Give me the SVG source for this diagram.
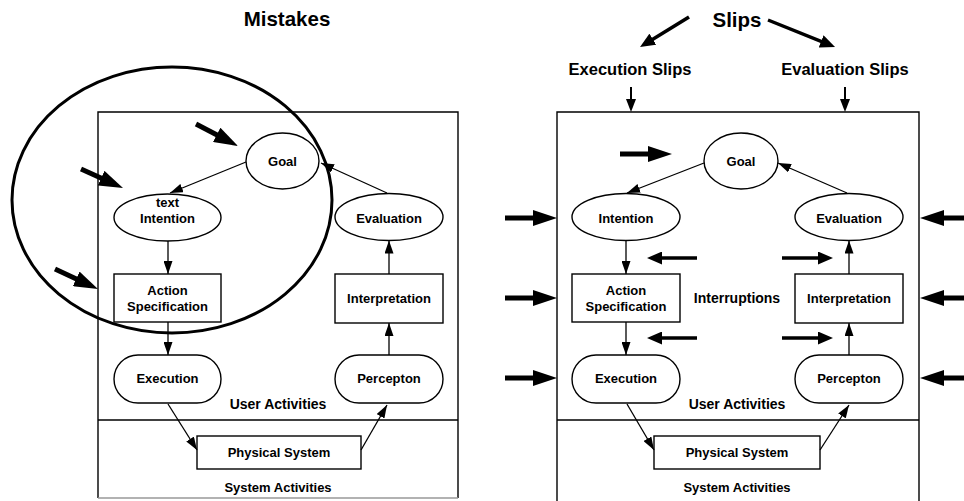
<svg xmlns="http://www.w3.org/2000/svg" width="964" height="501" viewBox="0 0 964 501">
<style>
.bg{fill:#fff}
.frame{fill:none;stroke:#000;stroke-width:1.4}
.node{fill:#fff;stroke:#000;stroke-width:1.4}
.lbl{font-family:"Liberation Sans",Arial,sans-serif;font-weight:bold;font-size:13px;fill:#000;text-anchor:middle}
.sec{font-family:"Liberation Sans",Arial,sans-serif;font-weight:bold;font-size:14px;fill:#000;text-anchor:middle}
.title{font-family:"Liberation Sans",Arial,sans-serif;font-weight:bold;font-size:20.5px;fill:#000;text-anchor:middle}
.sub{font-family:"Liberation Sans",Arial,sans-serif;font-weight:bold;font-size:16.5px;fill:#000;text-anchor:middle}
.thin{fill:none;stroke:#000;stroke-width:1.3;marker-end:url(#hThin)}
.thick{fill:none;stroke:#000;stroke-width:5;marker-end:url(#hThick)}
.mid{fill:none;stroke:#000;stroke-width:3.5;marker-end:url(#hMid)}
.down{fill:none;stroke:#000;stroke-width:2;marker-end:url(#hDown)}
.ring{fill:none;stroke:#000;stroke-width:3}
</style>
<defs>
<marker id="hThin" markerUnits="userSpaceOnUse" markerWidth="13" markerHeight="9" refX="13" refY="4.5" orient="auto"><path d="M0,0 L13,4.5 L0,9 z" fill="#000"/></marker>
<marker id="hThick" markerUnits="userSpaceOnUse" markerWidth="24" markerHeight="16" refX="15" refY="8" orient="auto"><path d="M0,0 L24,8 L0,16 z" fill="#000"/></marker>
<marker id="hMid" markerUnits="userSpaceOnUse" markerWidth="15" markerHeight="13" refX="10" refY="6.5" orient="auto"><path d="M0,0 L15,6.5 L0,13 z" fill="#000"/></marker>
<marker id="hDown" markerUnits="userSpaceOnUse" markerWidth="13" markerHeight="10" refX="10" refY="5" orient="auto"><path d="M0,0 L13,5 L0,10 z" fill="#000"/></marker>
</defs>
<rect class="bg" x="0" y="0" width="964" height="501"/>

<!-- LEFT PANEL: Mistakes -->
<g id="left-frame">
<path class="frame" d="M98,498 L98,112 L458,112 L458,498"/>
<line x1="98" y1="498" x2="458" y2="498" stroke="#999" stroke-width="1.4"/>
<line class="frame" x1="98" y1="420" x2="458" y2="420"/>
<text class="title" x="287" y="26">Mistakes</text>
<text class="sec" x="278" y="409">User Activities</text>
<text class="lbl" x="278" y="492">System Activities</text>
</g>
<g id="L-goal"><ellipse class="node" cx="282.5" cy="161" rx="36.5" ry="28"/><text class="lbl" x="282.5" y="166">Goal</text></g>
<g id="L-intention"><ellipse class="node" cx="167.5" cy="217.5" rx="53.5" ry="23.5"/><text class="lbl" x="167.5" y="206.5">text</text><text class="lbl" x="167.5" y="222.5">Intention</text></g>
<g id="L-evaluation"><ellipse class="node" cx="389" cy="217" rx="54" ry="23.5"/><text class="lbl" x="389" y="222.5">Evaluation</text></g>
<g id="L-action"><rect class="node" x="114" y="274" width="107" height="48"/><text class="lbl" x="167.5" y="294.5">Action</text><text class="lbl" x="167.5" y="311">Specification</text></g>
<g id="L-interpretation"><rect class="node" x="335" y="274" width="108" height="49"/><text class="lbl" x="389" y="303">Interpretation</text></g>
<g id="L-execution"><rect class="node" x="114" y="355" width="107" height="48" rx="24" ry="24"/><text class="lbl" x="167.5" y="383">Execution</text></g>
<g id="L-percepton"><rect class="node" x="335" y="355" width="108" height="48" rx="24" ry="24"/><text class="lbl" x="389" y="383">Percepton</text></g>
<g id="L-physical"><rect class="node" x="197" y="436" width="164" height="33"/><text class="lbl" x="279" y="457">Physical System</text></g>

<!-- RIGHT PANEL: Slips -->
<g id="right-frame">
<path class="frame" d="M557,501 L557,112 L919,112 L919,501"/>
<line class="frame" x1="557" y1="420" x2="919" y2="420"/>
<text class="title" x="737" y="27">Slips</text>
<text class="sub" x="630" y="75">Execution Slips</text>
<text class="sub" x="845" y="75">Evaluation Slips</text>
<text class="sec" x="737" y="303">Interruptions</text>
<text class="sec" x="737" y="409">User Activities</text>
<text class="lbl" x="737" y="492">System Activities</text>
</g>
<g id="R-goal"><ellipse class="node" cx="741" cy="161" rx="37" ry="28"/><text class="lbl" x="741" y="166">Goal</text></g>
<g id="R-intention"><ellipse class="node" cx="626" cy="217" rx="54" ry="23.5"/><text class="lbl" x="626" y="222.5">Intention</text></g>
<g id="R-evaluation"><ellipse class="node" cx="849" cy="217" rx="54" ry="23.5"/><text class="lbl" x="849" y="222.5">Evaluation</text></g>
<g id="R-action"><rect class="node" x="572" y="274" width="108" height="48"/><text class="lbl" x="626" y="294.5">Action</text><text class="lbl" x="626" y="311">Specification</text></g>
<g id="R-interpretation"><rect class="node" x="795" y="274" width="108" height="49"/><text class="lbl" x="849" y="303">Interpretation</text></g>
<g id="R-execution"><rect class="node" x="572" y="355" width="108" height="48" rx="24" ry="24"/><text class="lbl" x="626" y="383">Execution</text></g>
<g id="R-percepton"><rect class="node" x="795" y="355" width="108" height="48" rx="24" ry="24"/><text class="lbl" x="849" y="383">Percepton</text></g>
<g id="R-physical"><rect class="node" x="654" y="436" width="166" height="33"/><text class="lbl" x="737" y="457">Physical System</text></g>

<g id="connectors">
<!-- left flow -->
<line class="thin" x1="246" y1="162" x2="170" y2="193"/>
<line class="thin" x1="387" y1="193" x2="321" y2="163"/>
<line class="thin" x1="168" y1="241" x2="168" y2="274"/>
<line class="thin" x1="168" y1="322" x2="168" y2="355"/>
<line class="thin" x1="389" y1="355" x2="389" y2="323"/>
<line class="thin" x1="389" y1="274" x2="389" y2="240.5"/>
<line class="thin" x1="168" y1="404" x2="197" y2="450"/>
<line class="thin" x1="361" y1="450" x2="387" y2="405"/>
<!-- left mistake arrows -->
<line class="thick" x1="196" y1="124" x2="230" y2="141.8"/>
<line class="thick" x1="81" y1="169" x2="114.8" y2="184.3"/>
<line class="thick" x1="55" y1="269" x2="89.8" y2="285.2"/>
<!-- right flow -->
<line class="thin" x1="704" y1="163" x2="627" y2="193"/>
<line class="thin" x1="847" y1="193" x2="778" y2="163"/>
<line class="thin" x1="626" y1="241" x2="626" y2="274"/>
<line class="thin" x1="626" y1="322" x2="626" y2="355"/>
<line class="thin" x1="849" y1="355" x2="849" y2="323"/>
<line class="thin" x1="849" y1="274" x2="849" y2="240.5"/>
<line class="thin" x1="627" y1="404" x2="654" y2="450"/>
<line class="thin" x1="820" y1="450" x2="849" y2="405"/>
<!-- slips arrows -->
<line class="mid" x1="689" y1="17" x2="644.3" y2="44.4"/>
<line class="mid" x1="768" y1="20" x2="830.4" y2="45.1"/>
<line class="down" x1="631" y1="87" x2="631" y2="109"/>
<line class="down" x1="845" y1="87" x2="845" y2="109"/>
<line class="thick" x1="620" y1="154" x2="663" y2="154"/>
<line class="thick" x1="505" y1="218" x2="548" y2="218"/>
<line class="thick" x1="505" y1="298" x2="548" y2="298"/>
<line class="thick" x1="505" y1="378" x2="548" y2="378"/>
<line class="thick" x1="966" y1="218" x2="929" y2="218"/>
<line class="thick" x1="966" y1="298" x2="929" y2="298"/>
<line class="thick" x1="966" y1="378" x2="929" y2="378"/>
<!-- interruptions -->
<line class="mid" x1="697" y1="258" x2="652" y2="258"/>
<line class="mid" x1="697" y1="338" x2="652" y2="338"/>
<line class="mid" x1="782" y1="258" x2="828" y2="258"/>
<line class="mid" x1="782" y1="338" x2="828" y2="338"/>
</g>

<g id="mistakes-ring"><ellipse class="ring" cx="172" cy="200" rx="160" ry="133"/></g>
</svg>
